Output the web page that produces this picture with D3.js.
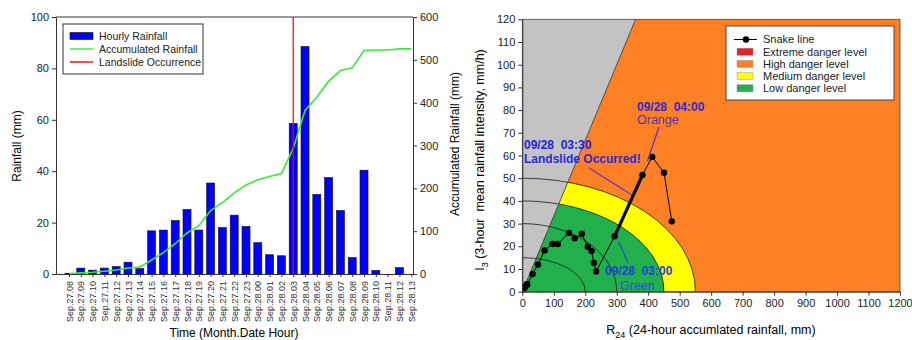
<!DOCTYPE html>
<html>
<head>
<meta charset="utf-8">
<script src="https://cdn.jsdelivr.net/npm/d3@7"></script>
<style>
  body { margin: 0; background: #fff; }
  svg { font-family: "Liberation Sans", Arial, sans-serif; }
</style>
</head>
<body>
<svg id="chart" width="912" height="340"></svg>
<script>
// ---- data ----
const hours = [
  'Sep.27.08','Sep.27.09','Sep.27.10','Sep.27.11','Sep.27.12','Sep.27.13','Sep.27.14','Sep.27.15',
  'Sep.27.16','Sep.27.17','Sep.27.18','Sep.27.19','Sep.27.20','Sep.27.21','Sep.27.22','Sep.27.23',
  'Sep.28.00','Sep.28.01','Sep.28.02','Sep.28.03','Sep.28.04','Sep.28.05','Sep.28.06','Sep.28.07',
  'Sep.28.08','Sep.28.09','Sep.28.10','Sep.28.11','Sep.28.12','Sep.28.13'
];
const hourlyRainfall = [0.3, 2.3, 1.5, 2.3, 2.9, 4.6, 2.1, 16.8, 17.1, 20.8, 25.1, 17.1, 35.4, 18.1, 22.9,
  18.5, 12.2, 7.5, 7.1, 58.6, 88.5, 31.0, 37.5, 24.7, 6.4, 40.4, 1.4, 0, 2.5, 0];
const accumulatedRainfall = [0.3, 2.6, 4.1, 6.4, 9.3, 13.9, 16.0, 32.8, 49.9, 70.7, 95.8, 112.9, 148.3,
  166.4, 189.3, 207.8, 220.0, 227.5, 234.6, 293.2, 381.7, 412.7, 450.2, 474.9, 481.3, 521.7, 523.1,
  523.1, 525.6, 525.6];
const landslideHour = 'Sep.28.03';
const rainfallTicks = [0, 20, 40, 60, 80, 100];
const accumTicks = [0, 100, 200, 300, 400, 500, 600];

// snake line (R24, I3), Sep.27.08 .. Sep.28.07
const snakeR24 = [0.3, 2.6, 4.1, 6.4, 9.3, 13.9, 16.0, 32.8, 49.9, 70.7, 95.8, 112.9, 148.3, 166.4,
  189.3, 207.8, 220.0, 227.5, 234.6, 293.2, 381.7, 412.7, 450.2, 474.9];
const snakeI3 = [0.1, 0.9, 1.4, 2.0, 2.2, 3.3, 3.2, 7.8, 12.0, 18.2, 21.0, 21.0, 25.9, 23.5, 25.5,
  19.8, 17.9, 12.7, 8.9, 24.4, 51.4, 59.4, 52.4, 31.0];
const thickSegment = 19; // Sep.28.03 -> Sep.28.04

// warning curves (ellipse semi-axes) and the lower bound line
const zoneR24 = [200, 300, 450, 550];
const zoneI3 = [15, 30, 40, 50];
const boundR24 = [0, 360];
const boundI3 = [0, 120];
const r24Ticks = d3.range(0, 1201, 100);
const i3Ticks = d3.range(0, 121, 10);

const legendLeft = ['Hourly Rainfall', 'Accumulated Rainfall', 'Landslide Occurrence'];
const legendRight = ['Snake line', 'Extreme danger level', 'High danger level', 'Medium danger level', 'Low danger level'];

const svg = d3.select('#chart');

// ================= left chart =================
const L = { left: 56, right: 413, top: 17, bottom: 274 };
const x1 = d3.scaleLinear().domain([-1.1, 29.15]).range([L.left, L.right]);
const y1 = d3.scaleLinear().domain([0, 100]).range([L.bottom, L.top]);
const y1r = d3.scaleLinear().domain([0, 600]).range([L.bottom, L.top]);

const g1 = svg.append('g');
const bw = (x1(1) - x1(0)) * 0.68;

g1.selectAll('rect.bar')
  .data(hourlyRainfall.map((v, i) => ({ v, i })).filter(d => d.v > 0))
  .join('rect')
  .attr('class', 'bar')
  .attr('x', d => x1(d.i) - bw / 2)
  .attr('y', d => y1(d.v))
  .attr('width', bw)
  .attr('height', d => y1(0) - y1(d.v))
  .attr('fill', '#0000ff')
  .attr('stroke', '#111')
  .attr('stroke-width', 0.6);

g1.append('path')
  .datum(accumulatedRainfall)
  .attr('d', d3.line().x((d, i) => x1(i)).y(d => y1r(d)))
  .attr('fill', 'none')
  .attr('stroke', '#3ce83c')
  .attr('stroke-width', 1.6);

const lx = x1(hours.indexOf(landslideHour));
g1.append('line')
  .attr('x1', lx).attr('x2', lx)
  .attr('y1', y1(0)).attr('y2', y1(100))
  .attr('stroke', '#ff0000')
  .attr('stroke-width', 1.2);

// frame top
g1.append('line')
  .attr('x1', L.left).attr('x2', L.right)
  .attr('y1', L.top).attr('y2', L.top)
  .attr('stroke', '#333');

const ax1 = g1.append('g')
  .attr('transform', `translate(0,${L.bottom})`)
  .call(d3.axisBottom(x1).tickValues(d3.range(hours.length)).tickFormat(i => hours[i]).tickSize(3).tickSizeOuter(0));
ax1.selectAll('text')
  .attr('transform', 'rotate(-90)')
  .attr('text-anchor', 'end')
  .attr('x', -7).attr('y', 0).attr('dy', '0.35em')
  .style('font-size', '9px')
  .attr('fill', '#333');

g1.append('g')
  .attr('transform', `translate(${L.left},0)`)
  .call(d3.axisLeft(y1).tickValues(rainfallTicks).tickSize(4).tickPadding(3).tickSizeOuter(0))
  .selectAll('text').style('font-size', '11px').attr('fill', '#222');

g1.append('g')
  .attr('transform', `translate(${L.right},0)`)
  .call(d3.axisRight(y1r).tickValues(accumTicks).tickSize(4).tickPadding(3).tickSizeOuter(0))
  .selectAll('text').style('font-size', '11px').attr('fill', '#222');

g1.append('text')
  .attr('transform', 'translate(21,146) rotate(-90)')
  .attr('text-anchor', 'middle')
  .style('font-size', '12px')
  .text('Rainfall (mm)');

g1.append('text')
  .attr('transform', 'translate(459,144) rotate(-90)')
  .attr('text-anchor', 'middle')
  .style('font-size', '12px')
  .text('Accumulated Rainfall (mm)');

g1.append('text')
  .attr('x', 234).attr('y', 337)
  .attr('text-anchor', 'middle')
  .style('font-size', '12px')
  .text('Time (Month.Date Hour)');

// legend
const lg1 = g1.append('g').attr('transform', 'translate(63,24)');
lg1.append('rect').attr('width', 140).attr('height', 50).attr('fill', '#fff').attr('stroke', '#333');
legendLeft.forEach((t, i) => {
  const yy = 12 + i * 13;
  if (i === 0) {
    lg1.append('rect').attr('x', 7).attr('y', yy - 3.5).attr('width', 23).attr('height', 7)
      .attr('fill', '#0000ff').attr('stroke', '#111').attr('stroke-width', 0.6);
  } else {
    lg1.append('line').attr('x1', 7).attr('x2', 30).attr('y1', yy).attr('y2', yy)
      .attr('stroke', i === 1 ? '#3ce83c' : '#ff0000').attr('stroke-width', 1.4);
  }
  lg1.append('text').attr('x', 36).attr('y', yy).attr('dy', '0.35em')
    .style('font-size', '10.5px').attr('fill', '#222').text(t);
});

// ================= right chart =================
const R = { left: 522.3, right: 900, top: 19.3, bottom: 291.7 };
const x2 = d3.scaleLinear().domain([0, 1200]).range([R.left, R.right]);
const y2 = d3.scaleLinear().domain([0, 120]).range([R.bottom, R.top]);

const defs = svg.append('defs');
defs.append('clipPath').attr('id', 'plotClip')
  .append('rect').attr('x', R.left).attr('y', R.top)
  .attr('width', R.right - R.left).attr('height', R.bottom - R.top);

const dangerPoly = [[boundR24[0], boundI3[0]], [boundR24[1], boundI3[1]], [1200, 120], [1200, 0]]
  .map(p => [x2(p[0]), y2(p[1])].join(',')).join(' ');
defs.append('clipPath').attr('id', 'dangerClip')
  .append('polygon').attr('points', dangerPoly);

const g2 = svg.append('g');
const plot = g2.append('g').attr('clip-path', 'url(#plotClip)');

plot.append('rect')
  .attr('x', R.left).attr('y', R.top)
  .attr('width', R.right - R.left).attr('height', R.bottom - R.top)
  .attr('fill', '#c3c3c3');

const danger = plot.append('g').attr('clip-path', 'url(#dangerClip)');
danger.append('polygon').attr('points', dangerPoly).attr('fill', '#fd8024');

const zoneColor = { 3: '#ffff00', 2: '#22b04a' };
[3, 2].forEach(k => {
  danger.append('ellipse')
    .attr('cx', x2(0)).attr('cy', y2(0))
    .attr('rx', x2(zoneR24[k]) - x2(0))
    .attr('ry', y2(0) - y2(zoneI3[k]))
    .attr('fill', zoneColor[k]);
});

plot.selectAll('ellipse.curve')
  .data(zoneR24.map((a, i) => ({ a, b: zoneI3[i] })))
  .join('ellipse')
  .attr('class', 'curve')
  .attr('cx', x2(0)).attr('cy', y2(0))
  .attr('rx', d => x2(d.a) - x2(0))
  .attr('ry', d => y2(0) - y2(d.b))
  .attr('fill', 'none')
  .attr('stroke', '#1a1a1a')
  .attr('stroke-width', 0.8);

plot.append('line')
  .attr('x1', x2(boundR24[0])).attr('y1', y2(boundI3[0]))
  .attr('x2', x2(boundR24[1])).attr('y2', y2(boundI3[1]))
  .attr('stroke', '#333').attr('stroke-width', 0.8);

// snake line
const snake = snakeR24.map((r, i) => ({ r, i3: snakeI3[i] }));
plot.selectAll('line.seg')
  .data(d3.pairs(snake))
  .join('line')
  .attr('class', 'seg')
  .attr('x1', d => x2(d[0].r)).attr('y1', d => y2(d[0].i3))
  .attr('x2', d => x2(d[1].r)).attr('y2', d => y2(d[1].i3))
  .attr('stroke', '#000')
  .attr('stroke-width', (d, i) => i === thickSegment ? 3.2 : 1);

plot.selectAll('circle.pt')
  .data(snake)
  .join('circle')
  .attr('class', 'pt')
  .attr('cx', d => x2(d.r)).attr('cy', d => y2(d.i3))
  .attr('r', 3.2)
  .attr('fill', '#000');

// annotations
const ann = g2.append('g');
const pt = k => [x2(snake[k].r), y2(snake[k].i3)];
const label = (x, y, size, bold, color, txt) => ann.append('text')
  .attr('x', x).attr('y', y)
  .attr('xml:space', 'preserve')
  .style('font-size', size)
  .style('font-weight', bold ? 'bold' : 'normal')
  .attr('fill', color)
  .text(txt);

ann.append('line').attr('x1', 659).attr('y1', 127).attr('x2', pt(20)[0] + 5).attr('y2', pt(20)[1] - 14)
  .attr('stroke', '#6a2fc8').attr('stroke-width', 1.3);
label(637, 111, '12px', true, '#2a2ad8', '09/28  04:00');
label(637, 124, '12.5px', false, '#5b2fb8', 'Orange');

ann.append('line').attr('x1', 589).attr('y1', 168).attr('x2', 632).attr('y2', 195)
  .attr('stroke', '#6a2fc8').attr('stroke-width', 1.3);
label(524, 149, '12px', true, '#2222e0', '09/28  03:30');
label(524, 163, '12px', true, '#2a2ad8', 'Landslide Occurred!');

ann.append('line').attr('x1', pt(19)[0] + 4).attr('y1', pt(19)[1] + 5).attr('x2', 628).attr('y2', 263)
  .attr('stroke', '#2255cc').attr('stroke-width', 1.3);
label(605, 275, '12px', true, '#1f3fe0', '09/28  03:00');
label(620, 290, '12.5px', false, '#2a50d8', 'Green');

// frame
g2.append('rect')
  .attr('x', R.left).attr('y', R.top)
  .attr('width', R.right - R.left).attr('height', R.bottom - R.top)
  .attr('fill', 'none').attr('stroke', '#444').attr('stroke-width', 0.8);

g2.append('g')
  .attr('transform', `translate(0,${R.bottom})`)
  .call(d3.axisBottom(x2).tickValues(r24Ticks).tickFormat(d3.format('d')).tickSize(4).tickPadding(4).tickSizeOuter(0))
  .selectAll('text').style('font-size', '11px').attr('fill', '#222');

g2.append('g')
  .attr('transform', `translate(${R.left},0)`)
  .call(d3.axisLeft(y2).tickValues(i3Ticks).tickSize(4).tickPadding(3).tickSizeOuter(0))
  .selectAll('text').style('font-size', '11px').attr('fill', '#222');

svg.selectAll('.domain').attr('stroke', '#333');
svg.selectAll('.tick line').attr('stroke', '#333');

const xt = g2.append('text')
  .attr('x', 711).attr('y', 334)
  .attr('text-anchor', 'middle')
  .style('font-size', '12.5px');
xt.append('tspan').text('R');
xt.append('tspan').attr('dy', 4).style('font-size', '9px').text('24');
xt.append('tspan').attr('dy', -4).text(' (24-hour accumlated rainfall, mm)');

const yt = g2.append('text')
  .attr('transform', 'translate(484,160) rotate(-90)')
  .attr('text-anchor', 'middle')
  .attr('xml:space', 'preserve')
  .style('font-size', '12.5px');
yt.append('tspan').text('I');
yt.append('tspan').attr('dy', 4).style('font-size', '9px').text('3');
yt.append('tspan').attr('dy', -4).text(' (3-hour  mean rainfall intensity, mm/h)');

// legend
const lg2 = g2.append('g').attr('transform', 'translate(726,26)');
lg2.append('rect').attr('width', 168).attr('height', 74).attr('fill', '#fff').attr('stroke', '#444');
const swatch = ['#e8202a', '#fd8024', '#ffff00', '#22b04a'];
legendRight.forEach((t, i) => {
  const yy = 13.5 + i * 12.2;
  if (i === 0) {
    lg2.append('line').attr('x1', 8).attr('x2', 31).attr('y1', yy).attr('y2', yy).attr('stroke', '#000');
    lg2.append('circle').attr('cx', 20).attr('cy', yy).attr('r', 3.2).attr('fill', '#000');
  } else {
    lg2.append('rect').attr('x', 11).attr('y', yy - 3.5).attr('width', 16).attr('height', 7)
      .attr('fill', swatch[i - 1]).attr('stroke', '#888').attr('stroke-width', 0.4);
  }
  lg2.append('text').attr('x', 37).attr('y', yy).attr('dy', '0.35em')
    .style('font-size', '11px').attr('fill', '#222').text(t);
});
</script>
</body>
</html>
